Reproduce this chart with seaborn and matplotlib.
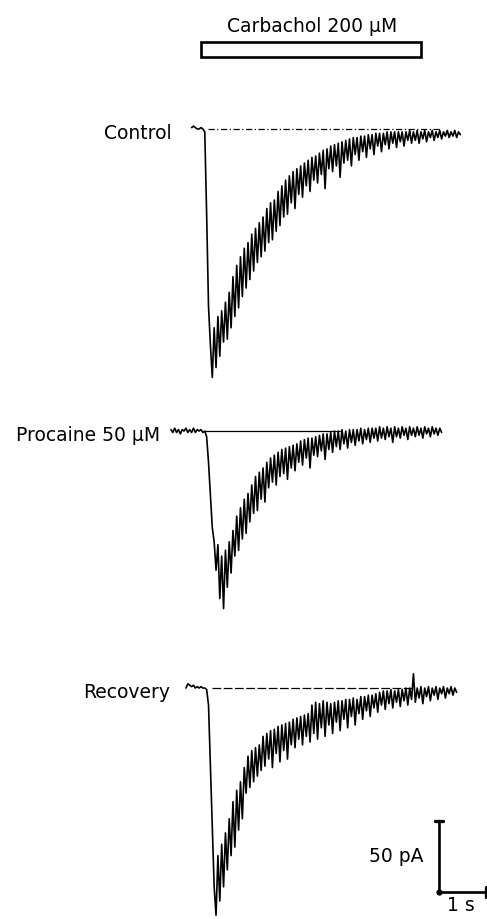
import numpy as np
import pandas as pd
import matplotlib
matplotlib.use("Agg")
import matplotlib.pyplot as plt
from matplotlib.patches import Rectangle
import seaborn as sns

# Whole-cell currents evoked by carbachol (pA), digitised every DT seconds.
# Time zero is the start of the carbachol application.
DT = 0.04

control_start = -0.20
control_pA = [
    1, 2, 1, 0, 0, 1, 0, -2, -60, -125,
    -152, -175, -140, -168, -132, -160, -128, -150, -122, -148,
    -115, -140, -104, -132, -96, -126, -90, -118, -84, -112,
    -80, -106, -74, -100, -70, -94, -66, -90, -62, -86,
    -56, -80, -52, -78, -50, -72, -44, -68, -40, -62,
    -36, -60, -33, -52, -30, -56, -28, -46, -26, -48,
    -24, -40, -22, -44, -20, -36, -19, -38, -17, -32,
    -15, -42, -14, -28, -12, -30, -11, -26, -10, -34,
    -9, -24, -8, -22, -7, -26, -6, -18, -6, -22,
    -5, -16, -5, -20, -4, -14, -4, -18, -3, -12,
    -3, -16, -3, -11, -2, -14, -2, -10, -2, -13,
    -2, -9, -2, -12, -2, -8, -1, -10, -2, -8,
    -1, -10, -2, -7, -1, -9, -2, -6, -1, -8,
    -2, -6, -1, -7, -2, -5, -1, -6, -2, -5,
    -1, -6, -2, -4,
]

procaine_start = -0.64
procaine_pA = [
    1, -1, 2, -1, 1, -2, 1, 0, 2, -1,
    1, -1, 2, -1, 1, 0, 1, -1, 0, -4,
    -22, -45, -68, -78, -98, -80, -118, -88, -125, -84,
    -110, -78, -100, -70, -88, -60, -84, -54, -76, -48,
    -72, -44, -64, -38, -58, -32, -56, -29, -48, -26,
    -50, -22, -40, -19, -36, -17, -38, -15, -32, -13,
    -30, -12, -34, -11, -26, -10, -28, -9, -22, -7,
    -24, -6, -19, -5, -26, -5, -17, -4, -18, -3,
    -14, -2, -20, -2, -13, -1, -15, 0, -11, 0,
    -13, 1, -9, 0, -12, 1, -8, 1, -10, 1,
    -7, 2, -9, 1, -6, 2, -8, 2, -5, 2,
    -7, 3, -5, 2, -6, 3, -4, 2, -8, 3,
    -4, 2, -5, 3, -3, 2, -6, 3, -3, 2,
    -4, 3, -3, 2, -5, 3, -2, 2, -4, 3,
    -2, 2, -3, 2, -1,
]

recovery_start = -0.32
recovery_pA = [
    0, 3, 2, 1, 2, 0, 1, 0, 1, 0,
    0, -1, -12, -55, -98, -140, -160, -118, -150, -110,
    -140, -102, -128, -92, -118, -80, -112, -72, -100, -66,
    -92, -56, -74, -48, -70, -44, -66, -42, -62, -40,
    -58, -34, -55, -32, -50, -30, -56, -29, -46, -27,
    -52, -26, -44, -25, -50, -24, -40, -22, -42, -21,
    -36, -20, -40, -19, -34, -18, -38, -12, -32, -10,
    -36, -11, -28, -9, -34, -10, -26, -11, -32, -10,
    -24, -9, -30, -9, -22, -8, -28, -8, -20, -7,
    -26, -8, -18, -6, -22, -6, -16, -5, -20, -5,
    -14, -4, -17, -3, -12, -2, -15, -2, -11, -1,
    -14, -2, -10, -1, -13, -1, -9, 0, -12, 0,
    -8, 10, -10, 0, -7, 1, -11, 0, -6, 1,
    -9, 0, -5, 1, -8, 0, -4, 1, -7, 0,
    -4, 1, -5, 0, -3,
]

trace_labels = ["Control", "Procaine 50 μM", "Recovery"]
carbachol_label = "Carbachol 200 μM"
carbachol_on, carbachol_off = 0.0, 4.68   # s
scale_current = 50                        # pA
scale_time = 1                            # s

# ---- layout -------------------------------------------------------------
W_PX, H_PX = 487, 920
PX_PER_S = 47.0
PX_PER_PA = 1.42
X0_PX = 201            # horizontal position of t = 0
Y0_PX = 130            # vertical position of the control baseline
trace_offsets = [0.0, -212.7, -393.7]     # vertical stacking of the records (pA)
label_right = [-0.62, -0.87, -0.66]       # right edge of each record name (s)
baseline_ref = [(0.15, 5.09, (0, (5, 2, 1, 2))),
                (0.09, 2.96, "-"),
                (0.23, 4.51, (0, (7, 2)))]

sns.set_style("white")
plt.rcParams["font.family"] = ["DejaVu Sans"]

records = []
for name, start, vals, off in zip(trace_labels,
                                  [control_start, procaine_start, recovery_start],
                                  [control_pA, procaine_pA, recovery_pA],
                                  trace_offsets):
    vals = np.asarray(vals, dtype=float)
    t = start + DT * np.arange(len(vals))
    records.append(pd.DataFrame({"time": t, "current": vals,
                                 "shifted": vals + off, "record": name}))
df = pd.concat(records, ignore_index=True)

fig = plt.figure(figsize=(W_PX / 100, H_PX / 100), dpi=100)
ax = fig.add_axes([0, 0, 1, 1])
ax.set_xlim(-X0_PX / PX_PER_S, (W_PX - X0_PX) / PX_PER_S)
ax.set_ylim(-(H_PX - Y0_PX) / PX_PER_PA, Y0_PX / PX_PER_PA)
ax.axis("off")

sns.lineplot(data=df, x="time", y="shifted", hue="record",
             palette=["black"] * 3, estimator=None, sort=False,
             legend=False, linewidth=1.2, ax=ax)

# zero-current reference lines and record names
for name, off, xr, (a, b, ls) in zip(trace_labels, trace_offsets,
                                     label_right, baseline_ref):
    ax.plot([a, b], [off, off], color="black", lw=0.9, linestyle=ls)
    ax.text(xr, off - 6.5, name, ha="right", va="baseline",
            fontsize=13.5, color="black")

# carbachol application bar
bar_top = 61.3
bar_h = 10.6
ax.add_patch(Rectangle((carbachol_on, bar_top - bar_h),
                       carbachol_off - carbachol_on, bar_h,
                       fill=False, lw=1.9, ec="black"))
ax.text((carbachol_on + carbachol_off) / 2 + 0.02, 69.0, carbachol_label,
        ha="center", va="baseline", fontsize=13.5, color="black")

# calibration bars
sx, sy = 5.06, -537.3
ax.plot([sx, sx], [sy, sy + scale_current], color="black", lw=1.9,
        solid_capstyle="butt")
ax.plot([sx, sx + scale_time], [sy, sy], color="black", lw=1.9,
        solid_capstyle="butt")
ax.plot([sx - 0.09, sx + 0.09], [sy + scale_current] * 2, color="black", lw=2.4)
ax.plot([sx + scale_time] * 2, [sy - 3.5, sy + 3.5], color="black", lw=2.4)
ax.plot([sx], [sy], marker="o", ms=3.5, color="black")
ax.text(sx - 0.32, sy + 22, f"{scale_current} pA", ha="right", va="baseline",
        fontsize=13.5, color="black")
ax.text(sx + scale_time / 2 - 0.04, sy - 13, f"{scale_time} s", ha="center",
        va="baseline", fontsize=13.5, color="black")

fig.savefig("out.png", dpi=100, facecolor="white")
